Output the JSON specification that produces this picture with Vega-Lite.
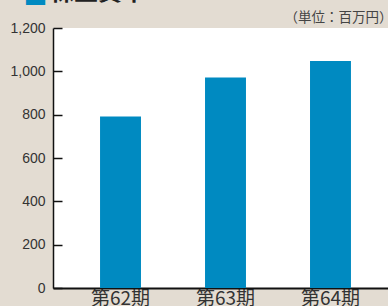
{
  "$schema": "https://vega.github.io/schema/vega-lite/v6.json",
  "autosize": "none",
  "width": 345,
  "height": 260,
  "padding": {"top": 28, "left": 53, "right": 0, "bottom": 18},
  "background": "#e3dcd2",
  "view": {"fill": "white", "stroke": null},
  "title": {
    "text": "株主資本",
    "anchor": "start",
    "frame": "group",
    "font": "Noto Sans CJK JP",
    "fontSize": 24,
    "fontWeight": "bold",
    "color": "#222222",
    "baseline": "bottom",
    "offset": -45,
    "dx": -3
  },
  "data": {
    "values": [
      {"period": "第62期", "value": 791},
      {"period": "第63期", "value": 971},
      {"period": "第64期", "value": 1048}
    ]
  },
  "mark": {"type": "bar", "color": "#008ac1"},
  "encoding": {
    "x": {
      "field": "period",
      "type": "nominal",
      "sort": null,
      "scale": {"paddingInner": 0.61, "paddingOuter": 0.448},
      "axis": {
        "title": "（単位：百万円）",
        "titleFont": "Noto Sans CJK JP",
        "titleFontSize": 13.5,
        "titleFontWeight": "normal",
        "titleColor": "#444444",
        "titleAlign": "right",
        "titleAnchor": null,
        "titleBaseline": "middle",
        "titleX": 339,
        "titleY": -271,
        "labelAngle": 0,
        "labelFont": "Noto Sans CJK JP",
        "labelFontSize": 19,
        "labelColor": "#333333",
        "labelPadding": 1,
        "labelBaseline": "top",
        "ticks": false,
        "domainColor": "#111111",
        "domainWidth": 2
      }
    },
    "y": {
      "field": "value",
      "type": "quantitative",
      "scale": {"domain": [0, 1200], "nice": false},
      "axis": {
        "title": "■",
        "titleFont": "Noto Sans CJK JP",
        "titleFontSize": 24,
        "titleColor": "#008ac1",
        "titleAngle": 0,
        "titleAlign": "left",
        "titleBaseline": "bottom",
        "titleX": -30,
        "titleY": -20,
        "values": [0, 200, 400, 600, 800, 1000, 1200],
        "format": ",d",
        "grid": false,
        "labelFont": "Liberation Sans",
        "labelFontSize": 14,
        "labelColor": "#333333",
        "labelPadding": 17,
        "tickSize": -9,
        "tickColor": "#111111",
        "tickWidth": 1.5,
        "domainColor": "#111111",
        "domainWidth": 1.5
      }
    }
  }
}
